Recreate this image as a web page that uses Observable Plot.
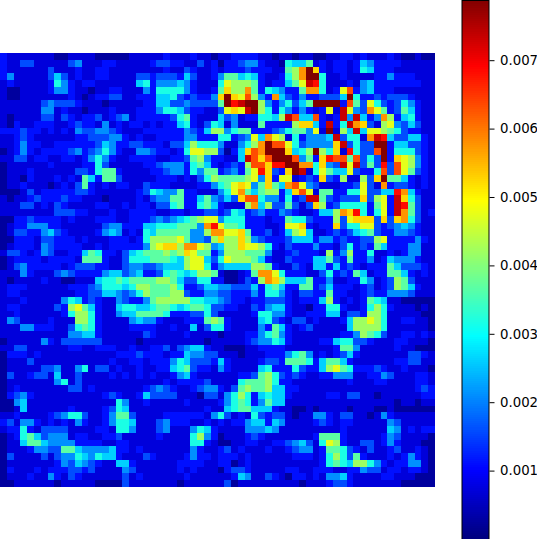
<!DOCTYPE html>
<html><head><meta charset="utf-8">
<script src="https://cdn.jsdelivr.net/npm/d3@7"></script>
<script src="https://cdn.jsdelivr.net/npm/@observablehq/plot@0.6"></script>
<style>html,body{margin:0;padding:0;background:#fff}#c{position:relative;width:537px;height:539px}#c svg{position:absolute;left:0;top:0;background:transparent}</style>
</head><body><div id="c"></div>
<script>
// Heat levels: hex digit per cell, 0 = lowest, f = highest.
const leftHalf = [
"21111111 00111100 00011111 21112110","21133111 11341112 21111123 32211312","21111113 11121122 11111111 21132112","24111113 53121122 11113323 33253112",
"12111112 64212211 11115624 44542111","10011112 44211011 22111426 66642112","10011111 11210122 33112225 56323224","11111134 33321110 11111225 53343333",
"11111144 12110111 21112224 66532211","10111133 13212231 23412222 23672111","10211222 11232214 12122121 22562136","22232212 12143344 32111222 22243258",
"11232111 11122333 44212112 22244222","11242211 22222235 42233222 13358666","01242122 22342346 42114432 21269988","11331221 12212464 21122221 12237842",
"01111112 11112263 11111223 44426752","01112111 11133267 72111122 34426477","01102111 21217527 73111112 22121368","01121110 12137212 12211322 21111224",
"00013122 22233211 11112365 44722111","10112322 23221110 11112134 47722574","11133121 32111122 11212213 36722675","11111111 33322111 21122221 12212233",
"00223222 21211122 21122234 34567899","01224442 21111113 44222556 667774bd","01332245 32111124 54121657 7777448b","00222133 22212111 22212688 88974438",
"01222143 22221121 22222489 aa8bb984","13321243 11225762 21356777 878a9772","01222212 22217772 11366677 76589953","01342222 21233322 11344334 55589962",
"11142111 34322224 55345223 67656887","10111121 10011156 67677778 87533662","12221111 11222346 66568877 78622355","12211111 11122335 54346877 78832244",
"11121111 14652321 14322478 88886655","12211111 32897521 15665567 76567763","11211111 12688621 14557777 62223363","14311112 11188621 11145442 11122278",
"11144222 11367621 11122221 12115136","11111111 11445521 11111321 11121111","01111142 13333331 11110111 11111101","11331111 11221122 21121122 31345521",
"02221211 11111111 12223222 12254433","01113111 11111111 21122122 24653332","01111133 41146133 12112112 25673221","03112331 51131111 21212121 12452111",
"01111111 46131111 11111111 21222231","01211111 11331211 11111234 32112344","02342111 11111112 32112533 33111033","00451111 11111111 16411211 11121111",
"00151111 11211112 36511111 11111121","11211112 34663112 47731111 22222214","23144212 12142112 46651113 42221121","12262133 33111122 16641113 41114652",
"01267534 44122112 23111112 11116842","01157754 44422221 12211111 11116621","01112443 37754444 52212111 11114211","03111131 34465465 52111321 11124221",
"01111111 24354321 15521111 11222211","02111212 22332311 11431111 11212111","01112114 21321111 11312111 11121111","00111111 01111100 00311111 11011111"
];
const rightHalf = [
"11222211 01101100 11221211 12100100","02234421 10655712 12212542 22211111","12223222 1178bfa2 12212652 22111111","47756521 1268bff6 11211112 24222111",
"69888721 22579ed6 11121452 22222211","7a88b726 54227bb6 129c2452 22111111","afa9c842 b5324223 335f6223 23332111","7fdeff84 24635 7ff ff2c7396 32364211",
"39a9ef86 26424212 91e94 3b9 72375211","53412266 58ec55c2 12e4e524 b8256211","51411172 2228aa52 e26eba31 89435311","84677222 34677491 f185e599 87632211",
"66234 95b 98162444 5e366 1be d5335521","41146 8bf cc963444 4ae363 3f f2553321","3025acbf ffa568f8 6a1d633c f2666321","2115ecac fffc472a dcc7c363 f2a98421",
"12328cca ddffbb6a 43e9e373 d3c98421","234279da 32afe169 75593226 c3c97321","7777894a 29912 32a 32811 83a f7752121","679a947a 75bc9431 11223931 b2332121",
"469b7578 825ac917 72266933 55db5211","353acc64 4262 3ee7 3233 3a38 92ea6311","21118b58 3373 13a8 23666627 92ed7311","23652342 24321125 58bad626 92eb7312",
"46662221 22766322 28 39aaa3 a3ab6311","97762221 1299a212 2a366993 23454211","b99a7223 12589511 2323567 3 22443211","a88a8432 22355524 42322338 92222421",
"588a9986 21322242 21362327 52224411","48887774 11232221 82482261 12124411","69888752 11322255 73272241 25444211","45555887 21132155 25232122 27533321",
"10012 7bb 96222113 62327512 27752121","20013 28b a8555722 41122641 23873111","44333526 75227723 52221231 23875211","33222426 64213322 72211232 24443111",
"43221223 33212225 82121276 51100000","32211324 55211022 66211268 62111010","11111266 44211222 55133288 61111100","72111156 32133121 11258898 61122110",
"62111142 75212311 11158888 61111110","01112246 74211111 11224876 31122121","11112344 65211112 25663321 11221110","10001122 22111111 12774111 11211000",
"11101112 22467412 12352111 11113321","52111123 32777625 77521111 11223311","42111156 22263225 89762223 21121110","11122378 63232112 24441122 43111221",
"11167778 62211111 11121112 21111221","21378778 55221111 11111111 11111232","14686256 55211111 22133110 11111122","24676247 55111111 11111111 11011011",
"15677555 21100101 11101110 01000000","63121632 33101144 21331101 42111111","21224552 54111123 21221111 14311111","11114445 41111111 11211111 15412122",
"01112321 11111127 77211111 24311110","00112211 22345316 98211331 24211100","23121112 11234412 77632131 12311210","22212111 11122212 68637211 12124210",
"22012111 11111112 67658864 21224410","02332111 11221122 21122433 12212210","11254113 21022121 44521111 22111000","13011111 11110111 23321111 11100000"
];

const vmax = 0.00788;
// Share of vmax that each level stands for.
const levelShare = [0.03,0.09,0.14,0.2,0.265,0.33,0.4,0.465,0.53,0.6,0.665,0.73,0.8,0.865,0.93,1];
const clip = v => Math.max(0, Math.min(1, v));
const jet = t => `rgb(${[3,2,1].map(k => Math.round(255*clip(1.5-Math.abs(4*t-k)))).join(",")})`;
const colorScale = {type:"linear", domain:[0,vmax], interpolate:jet};

const rows = leftHalf.map((s,i)=>(s+rightHalf[i]).replace(/\s/g,"").padEnd(64,"1").slice(0,64));
const cells = rows.flatMap((s,r)=>Array.from(s,(ch,c)=>({r,c,v:levelShare[parseInt(ch,16)]*vmax})));
const idx = d3.range(64);

const heat = Plot.plot({
  width:537,height:539,marginTop:53,marginBottom:52,marginLeft:0,marginRight:102,
  x:{type:"band",domain:idx,padding:0,axis:null},
  y:{type:"band",domain:idx,padding:0,axis:null},
  color:colorScale,
  marks:[Plot.cell(cells,{x:"c",y:"r",fill:"v",inset:0,shapeRendering:"crispEdges"})]
});

const tickValues = [0.001,0.002,0.003,0.004,0.005,0.006,0.007];
const steps = d3.range(256).map(i=>({a:i/256*vmax,b:(i+1)/256*vmax}));
const bar = Plot.plot({
  width:537,height:539,marginTop:0,marginBottom:0,marginLeft:461.5,marginRight:48.5,
  style:{fontFamily:"'DejaVu Sans'",fontSize:"13.3px",color:"#000"},
  x:{domain:[0,1],axis:null},
  y:{domain:[0,vmax]},
  color:colorScale,
  marks:[
    Plot.rect(steps,{x1:0,x2:1,y1:"a",y2:"b",fill:"a",shapeRendering:"crispEdges"}),
    Plot.frame({stroke:"#000"}),
    Plot.axisY({anchor:"right",ticks:tickValues,tickFormat:".3f",tickSize:5,tickPadding:6,label:null,stroke:"#000",fill:"#000"})
  ]
});
document.getElementById("c").append(heat,bar);
</script></body></html>
